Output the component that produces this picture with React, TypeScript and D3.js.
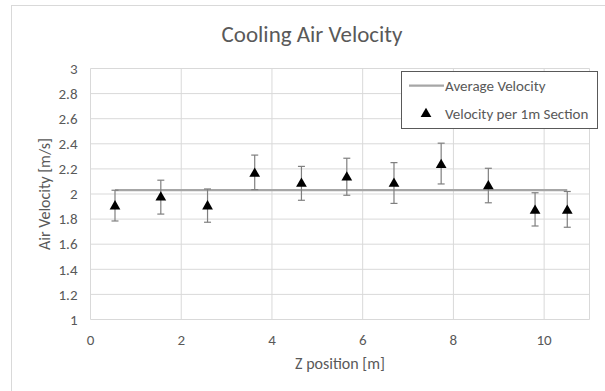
import * as d3 from "d3";
import React from "react";

// per-section measurements
const zPos = [0.54, 1.55, 2.58, 3.62, 4.65, 5.65, 6.69, 7.73, 8.77, 9.8, 10.51];
const velocity = [1.91, 1.98, 1.91, 2.17, 2.09, 2.14, 2.09, 2.24, 2.07, 1.875, 1.875];
const errLow = [0.125, 0.14, 0.135, 0.135, 0.14, 0.15, 0.165, 0.16, 0.14, 0.13, 0.14];
const errHigh = [0.12, 0.13, 0.13, 0.14, 0.13, 0.145, 0.16, 0.165, 0.135, 0.135, 0.145];
const avgVelocity = 2.03;
const avgRange = [0.54, 10.51];
const xTicks = [0, 2, 4, 6, 8, 10];
const yTicks = [1, 1.2, 1.4, 1.6, 1.8, 2, 2.2, 2.4, 2.6, 2.8, 3];

const W = 605;
const H = 391;
const m = { left: 90.5, right: 15.5, top: 68.5, bottom: 71.5 };
const font = "Carlito, Calibri, 'Open Sans', sans-serif";
const txt = "#595959";

export default function App() {
  const x = d3.scaleLinear().domain([0, 11]).range([m.left, W - m.right]);
  const y = d3.scaleLinear().domain([1, 3]).range([H - m.bottom, m.top]);
  const tri = d3.symbol().type(d3.symbolTriangle).size(50)() ?? "";

  return (
    <svg
      width={W}
      height={H}
      style={{ position: "absolute", left: 0, top: 0, background: "#fff" }}
      fontFamily={font}
    >
      <rect x={11.5} y={5.5} width={W} height={H} fill="#fff" stroke="#d9d9d9" />
      <text x={312} y={42} textAnchor="middle" fontSize={23} fill={txt}>
        Cooling Air Velocity
      </text>

      {/* grid */}
      {yTicks.map((t) => (
        <g key={"y" + t}>
          <line x1={m.left} x2={W - m.right} y1={y(t)} y2={y(t)} stroke="#d9d9d9" />
          <text x={m.left - 13} y={y(t)} dy="0.35em" textAnchor="end" fontSize={15} fill={txt}>
            {t}
          </text>
        </g>
      ))}
      {xTicks.map((t) => (
        <g key={"x" + t}>
          <line x1={x(t)} x2={x(t)} y1={m.top} y2={H - m.bottom} stroke="#d9d9d9" />
          <text x={x(t)} y={H - m.bottom + 25} textAnchor="middle" fontSize={15} fill={txt}>
            {t}
          </text>
        </g>
      ))}
      <line x1={W - m.right} x2={W - m.right} y1={m.top} y2={H - m.bottom} stroke="#d9d9d9" />

      {/* average */}
      <line
        x1={x(avgRange[0])}
        x2={x(avgRange[1])}
        y1={y(avgVelocity)}
        y2={y(avgVelocity)}
        stroke="#a6a6a6"
        strokeWidth={2.25}
      />

      {/* error bars + markers */}
      {zPos.map((z, i) => {
        const cx = x(z);
        const top = y(velocity[i] + errHigh[i]);
        const bot = y(velocity[i] - errLow[i]);
        return (
          <g key={i}>
            <line x1={cx} x2={cx} y1={top} y2={bot} stroke="#7f7f7f" strokeWidth={1.2} />
            <line x1={cx - 3.5} x2={cx + 3.5} y1={top} y2={top} stroke="#7f7f7f" strokeWidth={1.2} />
            <line x1={cx - 3.5} x2={cx + 3.5} y1={bot} y2={bot} stroke="#7f7f7f" strokeWidth={1.2} />
            <path d={tri} transform={`translate(${cx},${y(velocity[i]) + 1})`} fill="#000" />
          </g>
        );
      })}

      {/* legend */}
      <rect x={401.5} y={71.5} width={196} height={57} fill="#fff" stroke="#595959" />
      <line x1={409} x2={444} y1={85.5} y2={85.5} stroke="#a6a6a6" strokeWidth={2.25} />
      <text x={445} y={90.5} fontSize={15} fill={txt}>Average Velocity</text>
      <path d={tri} transform="translate(426,114)" fill="#000" />
      <text x={445} y={118.5} fontSize={15} fill={txt}>Velocity per 1m Section</text>

      {/* axis titles */}
      <text x={340} y={369} textAnchor="middle" fontSize={16} fill={txt}>
        Z position [m]
      </text>
      <text
        transform={`translate(50,${(m.top + H - m.bottom) / 2}) rotate(-90)`}
        textAnchor="middle"
        fontSize={16}
        fill={txt}
      >
        Air Velocity [m/s]
      </text>
    </svg>
  );
}
